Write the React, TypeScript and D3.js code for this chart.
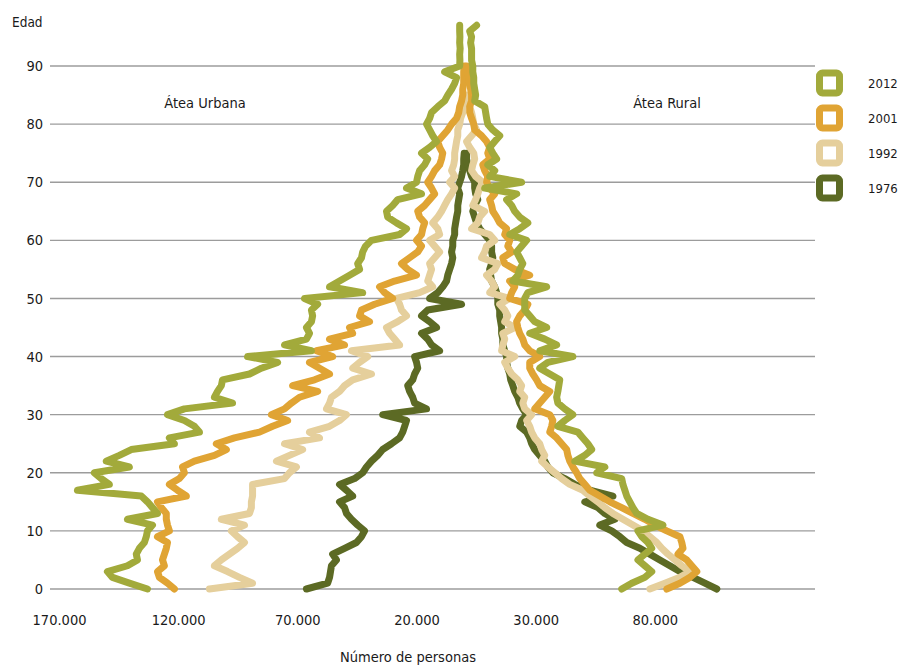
import React from "react";
import * as d3 from "d3";

// Values in thousands of persons, index = age in years
const urban2012 = [133.1,140.7,147.8,149.9,141.5,137.3,137.8,136.5,134.4,133.6, 133.1,131.0,141.5,128.9,131.0,133.1,135.7,162.5,149.1,152.5, 155.4,140.7,150.4,144.9,139.9,121.8,123.9,111.3,113.4,117.6, 124.7,117.6,97.4,105.0,103.7,102.1,101.6,90.3,85.3,78.5, 91.1,64.3,75.6,66.4,65.1,66.4,64.3,63.8,64.3,61.7, 67.2,42.8,56.7,52.5,48.3,44.1,44.9,43.3,42.8,41.6, 39.1,27.3,24.4,28.6,32.3,32.8,30.2,28.1,18.1,24.4, 20.2,19.7,18.9,16.8,15.5,18.1,14.7,11.8,13.4,14.7, 16.0,14.7,13.9,11.3,8.4,7.1,5.5,4.2,3.4,8.4, 2.1,2.0,2.1,1.9,2.1,2.0,2.1,2.1];
const rural2012 = [65.9,70.1,75.6,78.5,75.6,72.7,75.6,78.5,76.9,74.3, 72.7,83.2,76.9,72.2,70.6,69.3,68.0,67.2,66.4,65.9, 55.4,58.8,46.2,50.4,53.3,51.7,49.6,47.5,39.1,42.0, 45.4,42.0,39.1,38.6,39.1,39.5,39.9,35.7,31.5,34.9, 45.4,31.5,38.6,33.6,27.3,34.4,29.4,27.3,25.2,25.2, 25.2,26.5,34.4,20.2,22.3,23.1,24.4,23.1,21.8,23.9, 26.0,18.9,23.1,26.5,23.1,21.0,19.7,17.6,21.8,8.4, 23.9,10.5,12.6,9.7,13.4,11.8,10.5,12.6,14.7,11.8, 9.7,9.2,8.8,8.4,4.2,4.6,4.2,3.8,3.8,3.4, 3.4,2.9,2.9,2.9,2.5,2.9,2.1,5.0];
const urban2001 = [121.8,124.7,128.1,128.9,126.0,126.8,126.0,125.2,124.7,128.9, 123.9,124.7,125.2,125.2,127.3,128.9,116.8,120.5,123.9,119.7, 117.6,118.4,113.4,105.0,100.0,104.2,96.6,86.1,80.6,74.3, 81.1,75.6,72.7,69.3,61.7,72.2,63.0,56.7,60.9,65.1, 55.4,62.2,50.4,56.7,47.0,48.3,39.9,44.1,43.3,37.8, 30.2,33.6,35.7,29.4,20.2,23.9,26.5,23.1,19.7,18.1, 20.2,18.1,17.6,16.8,18.9,19.7,16.8,14.7,12.6,13.9, 15.5,13.9,12.6,10.5,9.7,9.2,10.5,11.3,9.2,7.1, 5.5,3.4,2.5,2.1,1.3,0.8,0.8,0.4,0.4,0.4, 0.2];
const rural2001 = [84.8,90.3,94.5,97.4,95.3,93.2,89.5,91.6,91.1,90.3, 84.8,79.8,75.6,70.6,65.9,60.9,56.7,52.5,50.4,48.3, 47.0,45.4,44.1,43.3,42.8,40.7,38.6,35.7,36.5,37.0, 35.7,29.4,31.5,33.6,35.7,31.5,30.2,28.6,27.3,27.3, 31.5,27.3,25.2,24.4,23.1,22.3,21.8,23.1,25.2,26.5, 18.9,19.7,21.0,18.9,27.3,21.0,16.8,16.0,19.7,18.1, 18.9,16.8,17.6,14.7,13.4,11.8,11.3,10.5,12.6,10.5, 9.2,9.7,8.4,7.6,10.5,9.7,10.5,9.2,7.1,4.2, 3.8,2.9,2.1,2.1,2.9,2.9,2.5,2.1,1.7,1.3, 0.8];
const urban1992 = [107.1,89.0,94.5,99.5,105.0,102.1,98.7,95.3,92.4,95.3, 97.9,92.4,102.1,90.3,89.5,89.5,89.0,89.0,89.0,75.6, 73.5,70.6,79.0,73.5,68.0,75.6,60.9,65.1,56.7,52.5, 49.6,58.0,56.7,55.9,52.5,50.4,47.0,39.1,47.0,44.1, 40.7,47.5,27.3,29.4,31.5,32.8,28.1,24.4,26.5,27.3, 28.6,18.9,13.4,15.5,14.7,13.9,14.7,12.6,10.5,12.6, 14.7,10.5,11.3,13.4,11.3,9.7,8.4,7.1,5.5,4.2, 6.3,4.2,5.5,4.6,4.2,4.2,3.8,3.4,2.9,2.9, 2.1,1.7,0.8,0.8,0.4,0.2];
const rural1992 = [77.7,84.0,90.3,94.5,91.1,88.2,85.3,82.7,80.6,77.7, 74.8,70.6,66.4,62.2,58.8,55.9,52.5,49.6,44.1,40.7, 37.8,34.9,32.3,33.6,32.3,31.5,29.4,28.1,27.3,26.0, 28.1,25.2,24.4,25.2,23.1,23.9,22.3,19.7,18.1,16.8, 21.0,15.5,16.0,16.8,16.0,21.0,16.8,18.1,16.8,14.7, 18.9,10.5,12.6,11.3,9.2,12.6,13.9,7.1,8.4,9.2, 12.6,10.5,2.9,5.5,6.3,8.4,3.4,4.6,5.5,6.3, 7.6,4.6,2.9,3.4,4.2,3.8,2.1,0.8,2.9,5.0, 3.8,3.4,2.9,2.1,1.3,0.8];
const urban1976 = [66.4,57.5,56.7,56.3,55.9,53.8,55.4,50.4,45.4,43.3, 42.0,44.9,47.5,49.6,50.4,52.5,47.0,49.6,52.5,46.2, 42.8,41.2,39.1,36.5,34.4,30.7,27.3,26.0,25.2,24.4, 34.4,16.0,21.0,21.8,23.1,23.9,21.8,21.0,19.7,20.2, 21.0,10.5,13.9,15.5,18.1,11.8,14.7,18.1,15.5,1.3, 14.7,11.3,9.2,7.6,7.1,6.3,5.5,5.0,5.5,5.0, 5.0,4.2,4.2,3.8,3.4,2.9,2.9,2.5,2.1,2.9, 2.1,1.3,0.8,0.4,0.4,0.2];
const rural1976 = [105.8,100.8,95.8,90.3,86.1,81.9,77.7,73.5,68.0,65.1, 61.7,56.7,63.0,58.8,55.9,50.4,62.2,52.5,46.2,42.0, 37.0,34.9,33.6,31.5,29.4,28.1,27.3,26.0,23.1,23.9, 26.0,24.4,23.1,22.3,21.0,20.2,19.3,18.9,18.1,17.6, 17.6,16.8,16.0,16.0,15.5,15.5,15.1,14.7,14.7,13.9, 13.9,13.4,12.6,11.3,10.9,10.5,11.3,11.8,11.3,11.3, 10.5,8.4,6.3,5.0,4.2,3.4,4.2,5.5,4.6,4.2, 4.2,2.9,2.1,1.3,0.8,0.8];

const years = ["2012", "2001", "1992", "1976"];
const colors = ["#a2aa3b", "#e0a434", "#e5cf9c", "#5c6a24"];
const xTickValues = [-170, -120, -70, -20, 30, 80];
const xTickLabels = ["170.000", "120.000", "70.000", "20.000", "30.000", "80.000"];
const yTickValues = [0, 10, 20, 30, 40, 50, 60, 70, 80, 90];

const seriesData = [
  { year: "2012", urban: urban2012, rural: rural2012 },
  { year: "2001", urban: urban2001, rural: rural2001 },
  { year: "1992", urban: urban1992, rural: rural1992 },
  { year: "1976", urban: urban1976, rural: rural1976 },
];

const FONT = "'Liberation Sans Narrow', 'DejaVu Sans Condensed', 'Roboto Condensed', Roboto, sans-serif";

export default function App() {
  const W = 902, H = 666;
  const x = d3.scaleLinear().domain([-174, 147]).range([50, 815]);
  const y = d3.scaleLinear().domain([0, 90]).range([589, 66]);
  const lineGen = d3.line<[number, number]>().x(d => d[0]).y(d => d[1]).curve(d3.curveLinear);

  const drawOrder = [3, 2, 1, 0];

  return (
    <svg width={W} height={H} style={{ position: "absolute", left: 0, top: 0, background: "#fff" }} fontFamily={FONT}>
      {yTickValues.map(v => (
        <g key={v}>
          <line x1={50} x2={815} y1={y(v)} y2={y(v)} stroke="#9c9c9c" strokeWidth={1.4} />
          <text x={43} y={y(v)} dy="0.35em" textAnchor="end" fontSize={14.5} fill="#1a1a1a">{v}</text>
        </g>
      ))}
      <text x={12} y={27} fontSize={13.5} fill="#1a1a1a">Edad</text>
      {xTickValues.map((v, i) => (
        <text key={v} x={x(v)} y={625} textAnchor="middle" fontSize={14.5} fill="#1a1a1a">{xTickLabels[i]}</text>
      ))}
      <text x={408} y={662} textAnchor="middle" fontSize={14.5} fill="#1a1a1a">Número de personas</text>
      <text x={205} y={108} textAnchor="middle" fontSize={14.5} fill="#1a1a1a">Átea Urbana</text>
      <text x={667} y={108} textAnchor="middle" fontSize={14.5} fill="#1a1a1a">Átea Rural</text>

      {drawOrder.map(si => {
        const s = seriesData[si];
        const up = s.urban.map((v, a) => [x(-v), y(a)] as [number, number]);
        const rp = s.rural.map((v, a) => [x(v), y(a)] as [number, number]);
        return (
          <g key={s.year} fill="none" stroke={colors[si]} strokeWidth={7} strokeLinejoin="round" strokeLinecap="round">
            <path d={lineGen(up) || ""} />
            <path d={lineGen(rp) || ""} />
          </g>
        );
      })}

      {years.map((yr, i) => (
        <g key={yr} transform={`translate(0, ${83 + i * 35})`}>
          <rect x={819.5} y={-10} width={20} height={20} rx={3} fill="#fff" stroke={colors[i]} strokeWidth={7} />
          <text x={868} y={0} dy="0.35em" fontSize={13} fill="#1a1a1a">{yr}</text>
        </g>
      ))}
    </svg>
  );
}
